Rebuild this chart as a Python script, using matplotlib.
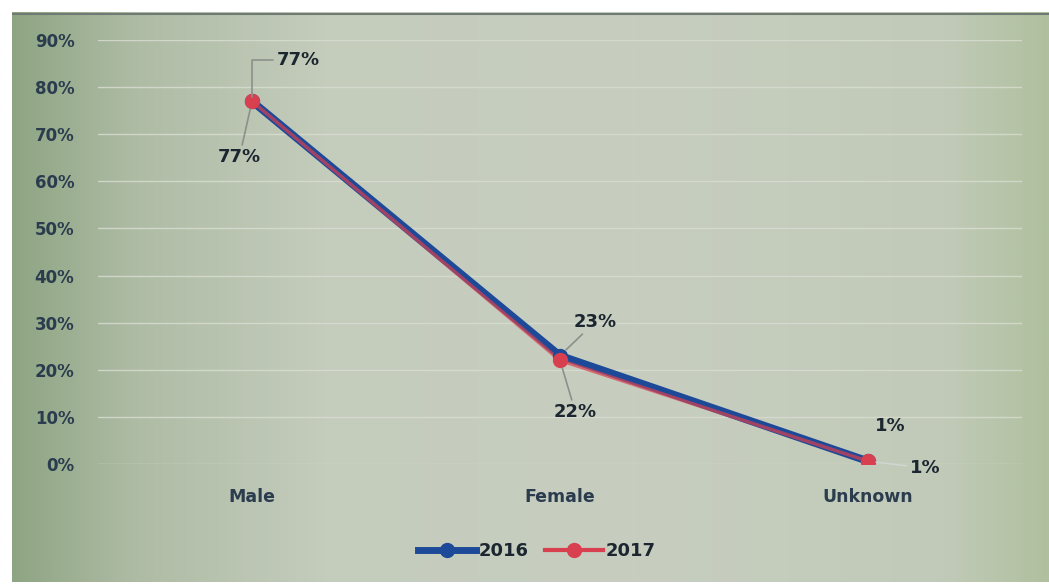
import numpy as np
import matplotlib
matplotlib.use("Agg")
import matplotlib.pyplot as plt
from matplotlib.colors import LinearSegmentedColormap

categories = ["Male", "Female", "Unknown"]
series_names = ["2016", "2017"]
values_2016 = [0.77, 0.23, 0.006]
values_2017 = [0.77, 0.22, 0.006]
y_ticks = [0.0, 0.1, 0.2, 0.3, 0.4, 0.5, 0.6, 0.7, 0.8, 0.9]

W, H = 1049, 588
fig = plt.figure(figsize=(W / 100, H / 100), dpi=100)
fig.patch.set_facecolor("white")

FONT = "DejaVu Sans"

# background panel with a photographic-like horizontal gradient
bg = fig.add_axes([12 / W, 6 / H, (W - 12) / W, (H - 18) / H], zorder=0)
cmap = LinearSegmentedColormap.from_list(
    "bg", [(0.0, "#8ea583"), (0.12, "#afbca5"), (0.3, "#c4ccbc"),
           (0.6, "#c7cec0"), (0.9, "#c1cab8"), (1.0, "#b0c09f")])
grad = np.linspace(0, 1, 512)[None, :]
bg.imshow(grad, aspect="auto", cmap=cmap, extent=[0, 1, 0, 1])
bg.axhline(0.997, color="#6f7a72", lw=1.5)
bg.set_axis_off()

ax = fig.add_axes([98 / W, 1 - 464 / H, (1022 - 98) / W, (464 - 40) / H], zorder=2)
ax.patch.set_alpha(0)
x = np.arange(len(categories))
ax.set_xlim(-0.5, 2.5)
ax.set_ylim(0, 0.9)

for t in y_ticks:
    ax.axhline(t, color="#d9ded2", lw=1.0, zorder=1, alpha=0.8)

blue = "#1d4a98"
red = "#d8404f"
ax.plot(x, values_2016, color=blue, lw=5.5, zorder=3, solid_capstyle="round")
ax.plot(x, values_2017, color=red, lw=2.5, zorder=4, alpha=0.7, solid_capstyle="round")
ax.plot(x, values_2016, ls="none", marker="o", ms=10, color=blue, zorder=5)
ax.plot(x, values_2017, ls="none", marker="o", ms=10, color=red, zorder=6)

for s in ax.spines.values():
    s.set_visible(False)
ax.tick_params(length=0)
ax.set_yticks(y_ticks)
ax.set_yticklabels([f"{t:.0%}" for t in y_ticks], fontsize=12,
                   fontweight="bold", color="#2b3c4e", family=FONT)
ax.tick_params(axis="y", pad=17)
ax.set_xticks(x)
ax.set_xticklabels(categories, fontsize=12.5, fontweight="bold",
                   color="#2b3c4e", family=FONT)
ax.tick_params(axis="x", pad=17)

lab_kw = dict(fontsize=13, fontweight="bold", color="#1c2630", family=FONT,
              zorder=8, ha="center", va="center")
leader = dict(arrowstyle="-", color="#8a918c", lw=1.2, shrinkA=0, shrinkB=6)

ax.annotate(f"{values_2017[0]:.0%}", xy=(x[0], values_2017[0]), xytext=(33, 30),
            textcoords="offset points",
            arrowprops=dict(leader, connectionstyle="angle,angleA=0,angleB=90", shrinkB=3),
            **lab_kw)
ax.annotate(f"{values_2016[0]:.0%}", xy=(x[0], values_2016[0]), xytext=(-9, -40),
            textcoords="offset points", arrowprops=leader, **lab_kw)
ax.annotate(f"{values_2016[1]:.0%}", xy=(x[1], values_2016[1]), xytext=(25, 24),
            textcoords="offset points", arrowprops=leader, **lab_kw)
ax.annotate(f"{values_2017[1]:.0%}", xy=(x[1], values_2017[1]), xytext=(11, -37),
            textcoords="offset points", arrowprops=leader, **lab_kw)
ax.annotate(f"{values_2017[2]:.0%}", xy=(x[2], values_2017[2]), xytext=(16, 25),
            textcoords="offset points", **lab_kw)
ax.annotate(f"{values_2016[2]:.0%}", xy=(x[2], values_2016[2]), xytext=(41, -5),
            textcoords="offset points", arrowprops=dict(leader, color="#cfd5d0"), **lab_kw)

h1, = ax.plot([], [], color=blue, lw=5, marker="o", ms=10)
h2, = ax.plot([], [], color=red, lw=3, marker="o", ms=10)
leg = fig.legend([h1, h2], series_names, loc="center", bbox_to_anchor=(537 / W, 1 - 551 / H),
                 ncol=2, frameon=False, handlelength=3.2, handletextpad=0.15,
                 columnspacing=0.9, prop=dict(family=FONT, weight="bold", size=13))
for t in leg.get_texts():
    t.set_color("#1c2630")

fig.savefig("out.png", dpi=100, facecolor="white")
